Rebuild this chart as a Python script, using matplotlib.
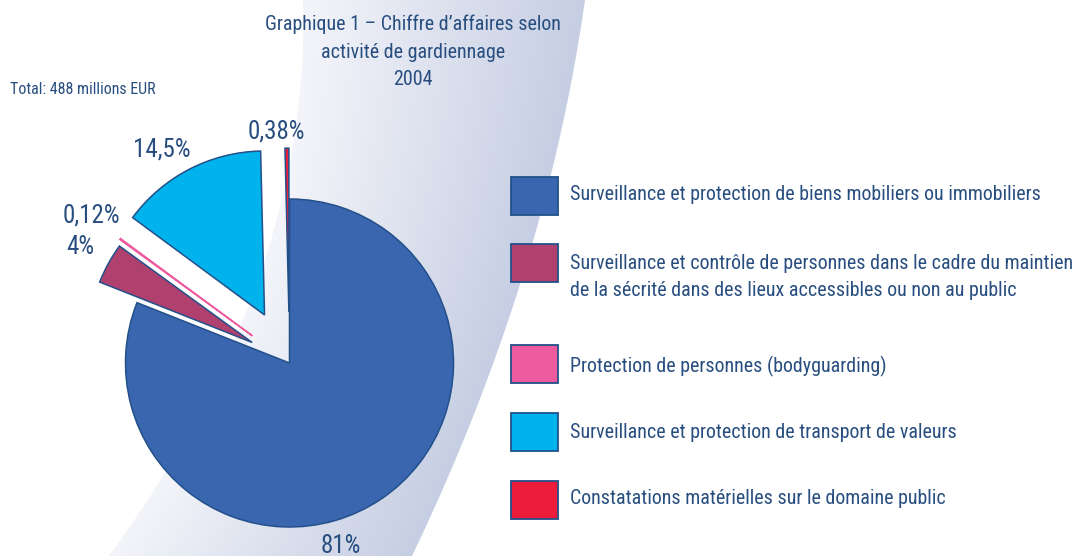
import numpy as np
import matplotlib
matplotlib.use('Agg')
import matplotlib.pyplot as plt
from matplotlib import font_manager
from matplotlib.patches import Rectangle

# narrowest family that is installed
_installed = {f.name for f in font_manager.fontManager.ttflist}
_wanted = ['Liberation Sans Narrow', 'DejaVu Sans Condensed',
           'Roboto Condensed', 'Roboto', 'Liberation Sans', 'DejaVu Sans']
FAMILY = [f for f in _wanted if f in _installed] + ['DejaVu Sans']
plt.rcParams['font.family'] = FAMILY[:2]

# data
activities = [
    "Surveillance et protection de biens mobiliers ou immobiliers",
    "Surveillance et contrôle de personnes dans le cadre du maintien\n"
    "de la sécrité dans des lieux accessibles ou non au public",
    "Protection de personnes (bodyguarding)",
    "Surveillance et protection de transport de valeurs",
    "Constatations matérielles sur le domaine public",
]
shares = [81, 4, 0.12, 14.5, 0.38]
share_labels = ["81%", "4%", "0,12%", "14,5%", "0,38%"]
colors = ['#3a66af', '#b0406e', '#ee5a9e', '#00b3ec', '#ed1c3a']
explode = [0, 0.26, 0.28, 0.33, 0.31]

W, H = 1078, 556
TEXT = '#284e80'
EDGE = '#23508a'
RADIUS = 164


def band_background(ax):
    """Light curved band behind the pie."""
    ys = np.arange(H) + 0.5
    xs = np.arange(W) + 0.5
    left = np.polyval(np.polyfit([0, 350, 556], [303, 230, 109], 2), ys)
    right = np.polyval(np.polyfit([0, 300, 556], [585, 515, 412], 2), ys)
    X, L = np.meshgrid(xs, left)
    _, R = np.meshgrid(xs, right)
    t = np.clip((X - L) / (R - L), 0, 1)
    alpha = np.clip(X - L + 0.5, 0, 1) * np.clip(R - X + 0.5, 0, 1)
    c0 = np.array([244, 245, 250]) / 255
    c1 = np.array([198, 206, 227]) / 255
    img = np.zeros((H, W, 4))
    for k in range(3):
        img[..., k] = c0[k] + (c1[k] - c0[k]) * t
    img[..., 3] = alpha
    ax.imshow(img, extent=(0, W, 0, H), origin='upper', zorder=0,
              interpolation='bilinear')


def fit_width(texts, ref, width):
    """Scale the font of texts so that ref spans width pixels."""
    renderer = fig.canvas.get_renderer()
    size = ref.get_fontsize() * width / ref.get_window_extent(renderer).width
    for t in texts:
        t.set_fontsize(size)


fig = plt.figure(figsize=(W / 100, H / 100), dpi=100)
ax = fig.add_axes([0, 0, 1, 1])
band_background(ax)

wedges, _ = ax.pie(
    shares, colors=colors, explode=[e * RADIUS for e in explode],
    startangle=90, counterclock=False, center=(289.5, H - 363),
    radius=RADIUS, wedgeprops=dict(edgecolor=EDGE, linewidth=1.1),
)
for w in wedges:
    w.set_zorder(2)
wedges[2].set_edgecolor(colors[2])

label_pos = [(341, 546), (80.5, 247.5), (91, 215.5), (161.5, 150),
             (276.5, 132)]
pct_texts = [ax.text(x, H - y, text, ha='center', va='center', fontsize=14,
                     color=TEXT)
             for text, (x, y) in zip(share_labels, label_pos)]

title = ax.text(413, H - 52, "Graphique 1 – Chiffre d’affaires selon\n"
                "activité de gardiennage\n2004", ha='center', va='center',
                fontsize=13.5, color=TEXT, linespacing=1.55)
total = ax.text(10, H - 90, "Total: 488 millions EUR", ha='left',
                va='center', fontsize=10.5, color=TEXT)

# legend
box_tops = [177, 244, 345, 413, 481]
text_y = [195, 277, 366, 432, 498]
leg_texts = []
for name, color, top, ty in zip(activities, colors, box_tops, text_y):
    ax.add_patch(Rectangle((511, H - top - 38), 47, 38, facecolor=color,
                           edgecolor=EDGE, linewidth=1.3, zorder=3))
    leg_texts.append(ax.text(570, H - ty, name, ha='left', va='center',
                             fontsize=13.5, color=TEXT, linespacing=1.55))

ax.set_xlim(0, W)
ax.set_ylim(0, H)
ax.set_aspect('equal')
ax.axis('off')

fit_width(leg_texts, leg_texts[0], 471)
fit_width([title], title, 295)
fit_width([total], total, 147)
fit_width(pct_texts, pct_texts[4], 58)

fig.savefig('out.png', dpi=100, facecolor='white')
